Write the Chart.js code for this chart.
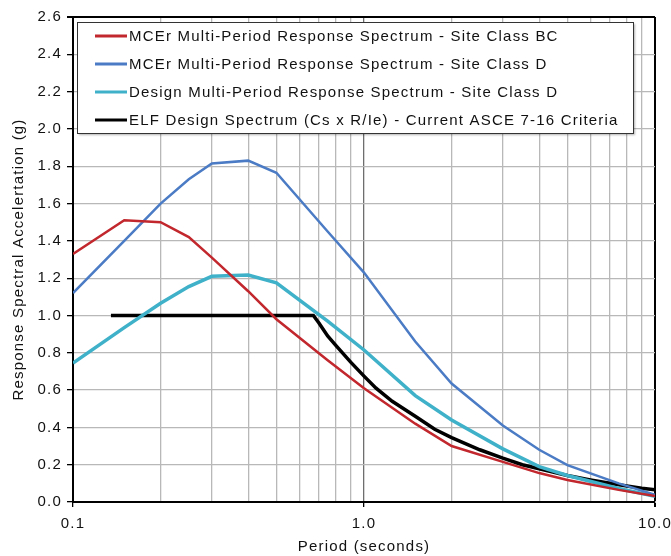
<!DOCTYPE html>
<html>
<head>
<meta charset="utf-8">
<script src="https://cdn.jsdelivr.net/npm/chart.js@4/dist/chart.umd.min.js"></script>
<style>
html,body{margin:0;padding:0;background:#fff;}
</style>
</head>
<body>
<canvas id="spectrumChart" width="671" height="556"></canvas>
<script>
// multi-period spectra (period in seconds, Sa in g)
const periods = [0.1, 0.15, 0.2, 0.25, 0.3, 0.4, 0.5, 0.75, 1.0, 1.5, 2.0, 3.0, 4.0, 5.0, 7.5, 10.0];
const mcerBC = [1.33, 1.51, 1.50, 1.42, 1.31, 1.13, 0.98, 0.76, 0.61, 0.42, 0.30, 0.215, 0.155, 0.118, 0.065, 0.032];
const mcerD = [1.12, 1.40, 1.60, 1.73, 1.815, 1.83, 1.765, 1.45, 1.23, 0.86, 0.635, 0.41, 0.28, 0.198, 0.10, 0.038];
const designD = [0.745, 0.935, 1.065, 1.155, 1.21, 1.217, 1.175, 0.97, 0.815, 0.57, 0.44, 0.285, 0.19, 0.142, 0.072, 0.03];

// ELF design spectrum
const elfPeriods = [0.135, 0.67, 0.7, 0.75, 0.8, 0.9, 1.0, 1.1, 1.25, 1.5, 1.75, 2.0, 2.5, 3.0, 3.5, 4.0, 5.0, 6.0, 7.0, 8.0, 9.0, 10.0];
const elfCs = [1.0, 1.0, 0.96, 0.89, 0.84, 0.75, 0.675, 0.61, 0.54, 0.46, 0.39, 0.345, 0.28, 0.235, 0.2, 0.178, 0.142, 0.118, 0.1, 0.086, 0.074, 0.065];

const seriesLabels = [
    "MCEr Multi-Period Response Spectrum - Site Class BC",
    "MCEr Multi-Period Response Spectrum - Site Class D",
    "Design Multi-Period Response Spectrum - Site Class D",
    "ELF Design Spectrum (Cs x R/Ie) - Current ASCE 7-16 Criteria"
];

const xGridValues = [0.1, 0.2, 0.3, 0.4, 0.5, 0.6, 0.7, 0.8, 0.9, 1, 2, 3, 4, 5, 6, 7, 8, 9, 10];
const xLabelValues = [0.1, 1, 10];
const xLabels = ["0.1", "1.0", "10.0"];

function toPoints(xs, ys){
    return xs.map((x, i) => ({x: x, y: ys[i]}));
}

const FONT = "'Liberation Sans', Arial, Helvetica, sans-serif";
const SPACING = "1.2px";

const spacingPlugin = {
    id: "spacing",
    beforeUpdate(chart){ chart.ctx.letterSpacing = SPACING; },
    beforeDraw(chart){ chart.ctx.letterSpacing = SPACING; }
};

const boxLegend = {
    id: "boxLegend",
    afterDatasetsDraw(chart){
        const ctx = chart.ctx;
        const area = chart.chartArea;
        const left = area.left + 4;
        const top = area.top + 5;
        const w = 556, h = 111;
        ctx.save();
        ctx.shadowColor = "rgba(0,0,0,0.3)";
        ctx.shadowOffsetX = 2;
        ctx.shadowOffsetY = 2;
        ctx.shadowBlur = 2;
        ctx.fillStyle = "#fff";
        ctx.fillRect(left, top, w, h);
        ctx.shadowColor = "transparent";
        ctx.strokeStyle = "#333";
        ctx.lineWidth = 1;
        ctx.strokeRect(left + 0.5, top + 0.5, w, h);
        ctx.font = "15px " + FONT;
        ctx.textBaseline = "middle";
        chart.data.datasets.forEach((ds, i) => {
            const y = top + 14 + i * 28;
            ctx.strokeStyle = ds.borderColor;
            ctx.lineWidth = 3;
            ctx.beginPath();
            ctx.moveTo(left + 18, y);
            ctx.lineTo(left + 50, y);
            ctx.stroke();
            ctx.fillStyle = "#111";
            ctx.fillText(ds.label, left + 52, y + 1);
        });
        ctx.restore();
    }
};

new Chart(
    document.getElementById("spectrumChart"),
    {
        type: "scatter",
        data: {
            datasets: [
                {
                    label: seriesLabels[0],
                    data: toPoints(periods, mcerBC),
                    borderColor: "#c1272d",
                    borderWidth: 2.5,
                    showLine: true,
                    pointRadius: 0
                },
                {
                    label: seriesLabels[1],
                    data: toPoints(periods, mcerD),
                    borderColor: "#4a7bc4",
                    borderWidth: 2.5,
                    showLine: true,
                    pointRadius: 0
                },
                {
                    label: seriesLabels[2],
                    data: toPoints(periods, designD),
                    borderColor: "#3fb1c9",
                    borderWidth: 3.5,
                    showLine: true,
                    pointRadius: 0
                },
                {
                    label: seriesLabels[3],
                    data: toPoints(elfPeriods, elfCs),
                    borderColor: "#000000",
                    borderWidth: 3.5,
                    showLine: true,
                    pointRadius: 0
                }
            ]
        },
        options: {
            responsive: false,
            devicePixelRatio: 1,
            animation: false,
            layout: {
                autoPadding: false,
                padding: {top: 17, right: 16, left: 0, bottom: 0}
            },
            plugins: {
                legend: {display: false},
                tooltip: {enabled: false}
            },
            scales: {
                x: {
                    type: "logarithmic",
                    min: 0.1,
                    max: 10,
                    afterBuildTicks(scale){
                        scale.ticks = xGridValues.map(v => ({value: v}));
                    },
                    afterFit(scale){
                        scale.height = 54;
                        scale.paddingLeft = 0;
                        scale.paddingRight = 0;
                    },
                    ticks: {
                        autoSkip: false,
                        maxRotation: 0,
                        padding: 8,
                        color: "#111",
                        font: {family: FONT, size: 15},
                        callback(value){
                            const k = xLabelValues.indexOf(value);
                            return k >= 0 ? xLabels[k] : "";
                        }
                    },
                    grid: {
                        color(ctx){
                            const v = ctx.tick ? ctx.tick.value : 0;
                            if (v === 10) return "#000";
                            if (v === 1) return "#6e6e6e";
                            return "#b8b8b8";
                        },
                        lineWidth(ctx){
                            const v = ctx.tick ? ctx.tick.value : 0;
                            return v === 10 ? 2 : 1.3;
                        },
                        tickLength: 5,
                        tickColor(ctx){
                            const v = ctx.tick ? ctx.tick.value : 0;
                            return xLabelValues.indexOf(v) >= 0 ? "#000" : "rgba(0,0,0,0)";
                        }
                    },
                    border: {display: true, color: "#000", width: 2},
                    title: {
                        display: true,
                        text: "Period (seconds)",
                        color: "#111",
                        font: {family: FONT, size: 15},
                        padding: {top: 3, bottom: 0}
                    }
                },
                y: {
                    min: 0,
                    max: 2.6,
                    afterFit(scale){
                        scale.width = 73;
                    },
                    ticks: {
                        stepSize: 0.2,
                        padding: 5,
                        color: "#111",
                        font: {family: FONT, size: 15},
                        callback(value){
                            return value.toFixed(1);
                        }
                    },
                    grid: {
                        color(ctx){
                            const v = ctx.tick ? ctx.tick.value : 0;
                            return Math.abs(v - 2.6) < 1e-6 ? "#000" : "#b8b8b8";
                        },
                        lineWidth(ctx){
                            const v = ctx.tick ? ctx.tick.value : 0;
                            return Math.abs(v - 2.6) < 1e-6 ? 2 : 1.3;
                        },
                        tickLength: 6,
                        tickColor: "#000"
                    },
                    border: {display: true, color: "#000", width: 2},
                    title: {
                        display: true,
                        text: "Response Spectral Accelertation (g)",
                        color: "#111",
                        font: {family: FONT, size: 15},
                        padding: {top: 10, bottom: 4}
                    }
                }
            }
        },
        plugins: [spacingPlugin, boxLegend]
    }
);
</script>
</body>
</html>
